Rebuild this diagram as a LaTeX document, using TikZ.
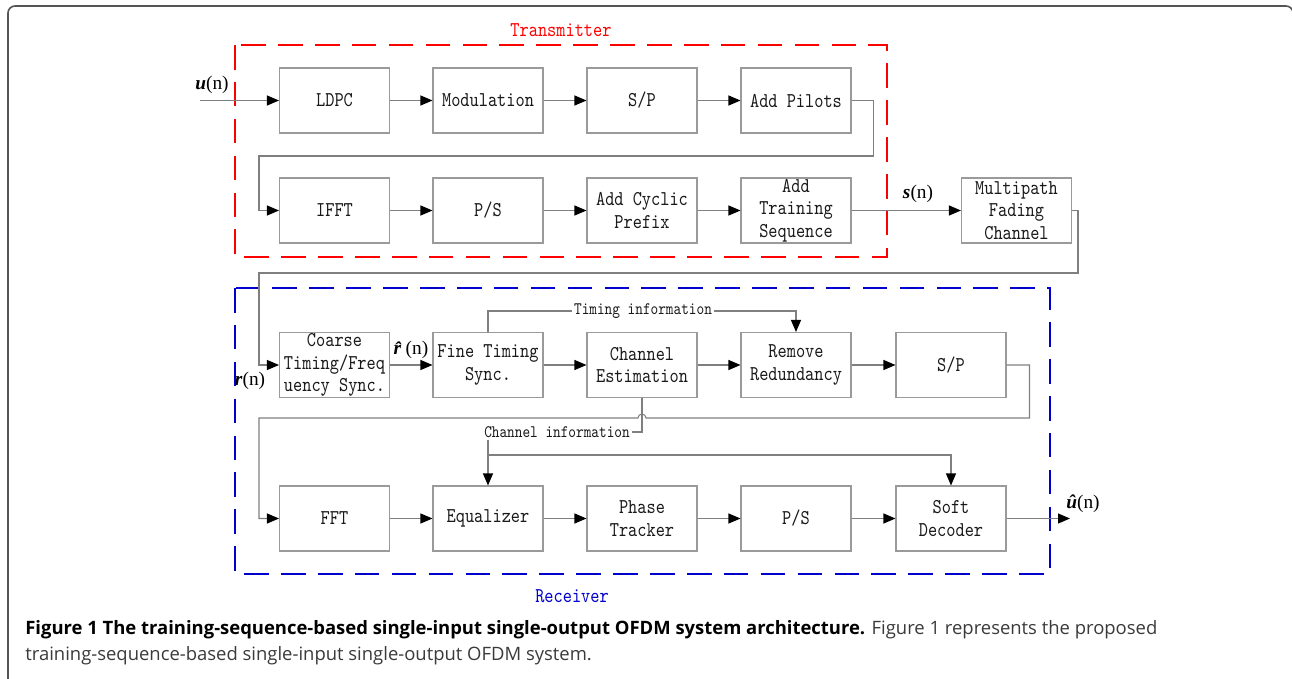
\documentclass[tikz,border=0pt]{standalone}
\usepackage{fontspec}
\usepackage{tikz}
\usetikzlibrary{arrows.meta}
\usetikzlibrary{positioning}
\setmainfont{Liberation Serif}
\newfontfamily\boxfont[FakeStretch=0.83]{lmmono10-regular.otf}
\newfontfamily\capfont{Open Sans}
\definecolor{wiregray}{HTML}{7F7F7F}
\definecolor{boxgray}{HTML}{9A9A9A}
\definecolor{framegray}{HTML}{555555}
\definecolor{txred}{HTML}{FF0000}
\definecolor{rxblue}{HTML}{0000CC}
\definecolor{capgray}{HTML}{3A3A3A}

\begin{document}
\begin{tikzpicture}[x=0.02cm, y=-0.02cm,
        blk/.style={draw=boxgray, line width=0.6pt, minimum width=2.2cm, minimum height=1.3cm,
            inner sep=0pt, align=center, text=black!90, font=\boxfont\fontsize{12}{12.8}\selectfont},
        wire/.style={draw=wiregray, line width=0.6pt},
        arr/.style={-{Triangle[length=2.4mm, width=2mm, black]}},
        sig/.style={inner sep=1pt, font=\fontsize{11}{12}\selectfont},
        info/.style={fill=white, inner sep=1pt, text=black!90, font=\boxfont\fontsize{10}{11}\selectfont}]
        \useasboundingbox (0,0) rectangle (1292,679);

        % Outer frame of the figure
        \draw[draw=framegray, line width=0.9pt, rounded corners=0.14cm] (8,679) -- (8,6) -- (1293,6) -- (1293,679);

        % Transmitter
        \draw[txred, line width=1.4pt, dash pattern=on 14pt off 7pt] (235,45) rectangle (887,257);
        \node[text=txred, font=\boxfont\fontsize{12}{14}\selectfont] (txlab) at (561,30) {Transmitter};

        % first row
        \node[blk] (ldpc) at (334.5,100.5) {LDPC};
        \node[blk] (mod) at (488,100.5) {Modulation};
        \node[blk] (sp1) at (642,100.5) {S/P};
        \node[blk] (pil) at (796,100.5) {Add Pilots};

        % second row
        \node[blk] (ifft) at (334.5,210.5) {IFFT};
        \node[blk] (ps1) at (488,210.5) {P/S};
        \node[blk] (acp) at (642,210.5) {Add Cyclic\\Prefix};
        \node[blk] (ats) at (796,210.5) {Add\\Training\\Sequence};

        % Channel
        \node[blk] (mfc) at (1016.5,210.5) {Multipath\\Fading\\Channel};

        % Receiver
        \draw[rxblue, line width=1.4pt, dash pattern=on 14pt off 7pt] (235,288) rectangle (1050,574);
        \node[text=rxblue, font=\boxfont\fontsize{12}{14}\selectfont] (rxlab) at (572,596) {Receiver};

        % third row
        \node[blk] (coarse) at (334.5,365) {Coarse\\Timing/Freq\\uency Sync.};
        \node[blk] (fine) at (488,365) {Fine Timing\\Sync.};
        \node[blk] (chest) at (642,365) {Channel\\Estimation};
        \node[blk] (rem) at (796,365) {Remove\\Redundancy};
        \node[blk] (sp2) at (951,365) {S/P};

        % fourth row
        \node[blk] (fft) at (334.5,518.5) {FFT};
        \node[blk] (eq) at (488,518.5) {Equalizer};
        \node[blk] (pht) at (642,518.5) {Phase\\Tracker};
        \node[blk] (ps2) at (796,518.5) {P/S};
        \node[blk] (soft) at (951,518.5) {Soft\\Decoder};

        % Signal labels
        \node[sig] (ulab) at (212,85) {\textbf{\textit{u}}(n)};
        \node[sig] (slab) at (918,194) {\textbf{\textit{s}}(n)};
        \node[sig] (rlab) at (250,381) {\textbf{\textit{r}}(n)};
        \node[sig] (rhlab) at (411,350) {\textbf{\textit{\^{r}}}(n)};
        \node[sig] (uhlab) at (1083,504) {\textbf{\textit{\^{u}}}(n)};

        % Straight connections
        \coordinate (uin) at (200,100.5);
        \coordinate (uout) at (1070,518.5);
        \draw[wire, arr] (uin) -- (ldpc);
        \foreach \a/\b in {ldpc/mod, mod/sp1, sp1/pil, ifft/ps1, ps1/acp, acp/ats, ats/mfc,
                coarse/fine, fine/chest, chest/rem, rem/sp2, fft/eq, eq/pht, pht/ps2, ps2/soft} {
            \draw[wire, arr] (\a) -- (\b);
        }
        \draw[wire, arr] (soft) -- (uout);

        % Line wraps
        \draw[wire, arr] (pil.east) -- ++(22,0) |- (259,156) |- (ifft.west);
        \draw[wire, arr] (mfc.east) -- ++(6,0) |- (259,273) |- (coarse.west);
        \draw[wire, arr] (sp2.east) -- ++(23,0) |- (646,418)
            arc[start angle=0, end angle=-180, radius=4] -- (259,418) |- (fft.west);

        % Timing information
        \draw[wire, arr] (fine.north) |- (643,311) node[info] (tinfo) {Timing information} -| (rem.north);

        % Channel information
        \node[info] (cinfo) at (557,432) {Channel information};
        \draw[wire] (chest.south) |- (cinfo.east);
        \coordinate (cj) at (488,455);
        \draw[wire, arr] (cinfo.south -| cj) -- (eq.north);
        \draw[wire, arr] (cj) -| (soft.north);

        % Caption
        \node[anchor=base west, inner sep=0pt, text=capgray, font=\capfont\fontsize{10.5}{12}\selectfont] (cap1) at (25,634)
            {\textbf{\color{black}Figure 1 The training-sequence-based single-input single-output OFDM system architecture.} Figure 1 represents the proposed};
        \node[anchor=base west, inner sep=0pt, text=capgray, font=\capfont\fontsize{10.5}{12}\selectfont] (cap2) at (25,660)
            {training-sequence-based single-input single-output OFDM system.};
    \end{tikzpicture}
\end{document}
